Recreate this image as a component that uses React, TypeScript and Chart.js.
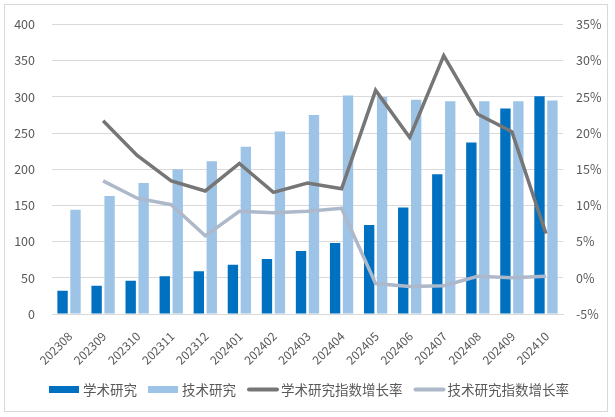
import React, { useEffect, useRef } from "react";
import { Chart, registerables } from "chart.js";

Chart.register(...registerables);

const categories = [
  "202308", "202309", "202310", "202311", "202312", "202401", "202402", "202403",
  "202404", "202405", "202406", "202407", "202408", "202409", "202410",
];
const academic = [32, 39, 46, 52, 59, 68, 76, 87, 98, 123, 147, 193, 237, 284, 301];
const technical = [144, 163, 181, 200, 211, 231, 252, 275, 302, 300, 296, 294, 294, 294, 295];
const academicGrowth = [null, 21.7, 16.9, 13.4, 12.0, 15.8, 11.8, 13.1, 12.3, 25.9, 19.4, 30.7, 22.6, 20.2, 6.1];
const technicalGrowth = [null, 13.4, 11.0, 10.1, 5.8, 9.2, 9.0, 9.2, 9.6, -0.8, -1.2, -1.1, 0.2, 0.0, 0.2];

const seriesNames = ["学术研究", "技术研究", "学术研究指数增长率", "技术研究指数增长率"];
const colors = ["#0070C0", "#9DC3E6", "#767676", "#ADB9CA"];
const FONT = "'Noto Sans CJK SC', 'Noto Sans', sans-serif";

const frameAndLegend = {
  id: "frameAndLegend",
  afterDraw(chart: any) {
    const ctx = chart.ctx as CanvasRenderingContext2D;
    ctx.save();
    ctx.strokeStyle = "#D9D9D9";
    ctx.lineWidth = 1;
    ctx.strokeRect(4.5, 4.5, 603, 407);

    ctx.font = `13.5px ${FONT}`;
    ctx.textBaseline = "middle";
    const y = 389.5;
    const items = seriesNames.map((n, i) => ({
      name: n,
      color: colors[i],
      isLine: i >= 2,
      w: ctx.measureText(n).width,
    }));
    const boxW = 30;
    const lineW = 32;
    let total = 0;
    items.forEach((it, i) => {
      total += (it.isLine ? lineW + 2 : boxW + 4) + it.w;
      if (i < items.length - 1) total += 11;
    });
    let x = 309 - total / 2;
    items.forEach((it) => {
      if (it.isLine) {
        ctx.strokeStyle = it.color;
        ctx.lineWidth = 4;
        ctx.lineCap = "round";
        ctx.beginPath();
        ctx.moveTo(x + 2, y);
        ctx.lineTo(x + lineW - 2, y);
        ctx.stroke();
        x += lineW + 2;
      } else {
        ctx.fillStyle = it.color;
        ctx.fillRect(x, y - 3.5, boxW, 7);
        x += boxW + 4;
      }
      ctx.fillStyle = "#595959";
      ctx.textAlign = "left";
      ctx.fillText(it.name, x, y);
      x += it.w + 11;
    });
    ctx.restore();
  },
};

export default function App() {
  const ref = useRef<HTMLCanvasElement | null>(null);

  useEffect(() => {
    if (!ref.current) return;
    const chart = new Chart(ref.current, {
      type: "bar",
      data: {
        labels: categories,
        datasets: [
          {
            type: "line",
            label: seriesNames[2],
            data: academicGrowth as any,
            borderColor: colors[2],
            backgroundColor: colors[2],
            borderWidth: 3.5,
            pointRadius: 0,
            tension: 0,
            yAxisID: "y1",
            order: 0,
          },
          {
            type: "line",
            label: seriesNames[3],
            data: technicalGrowth as any,
            borderColor: colors[3],
            backgroundColor: colors[3],
            borderWidth: 3.5,
            pointRadius: 0,
            tension: 0,
            yAxisID: "y1",
            order: 1,
          },
          {
            type: "bar",
            label: seriesNames[0],
            data: academic,
            backgroundColor: colors[0],
            categoryPercentage: 0.76,
            barPercentage: 0.8,
            yAxisID: "y",
            order: 2,
          },
          {
            type: "bar",
            label: seriesNames[1],
            data: technical,
            backgroundColor: colors[1],
            categoryPercentage: 0.76,
            barPercentage: 0.8,
            yAxisID: "y",
            order: 3,
          },
        ] as any,
      },
      options: {
        responsive: false,
        animation: false,
        layout: { padding: { top: 22, left: 0, right: 0, bottom: 0 } },
        plugins: {
          legend: { display: false },
          tooltip: { enabled: false },
        },
        scales: {
          x: {
            grid: { display: false, drawTicks: false },
            border: { display: true, color: "#D9D9D9", width: 1 },
            ticks: {
              autoSkip: false,
              maxRotation: 45,
              minRotation: 45,
              padding: 15,
              labelOffset: 1,
              color: "#595959",
              font: { family: FONT, size: 12 },
            },
            afterFit: (s: any) => {
              s.height = 103;
            },
          },
          y: {
            position: "left",
            min: 0,
            max: 400,
            ticks: {
              stepSize: 50,
              padding: 17,
              color: "#595959",
              font: { family: FONT, size: 12.5 },
            },
            grid: { color: "#D9D9D9", drawTicks: false },
            border: { display: false },
            afterFit: (s: any) => {
              s.width = 52;
            },
          },
          y1: {
            position: "right",
            min: -5,
            max: 35,
            ticks: {
              stepSize: 5,
              padding: 13,
              color: "#595959",
              font: { family: FONT, size: 12.5 },
              callback: (v: any) => `${v}%`,
            },
            grid: { display: false, drawTicks: false },
            border: { display: false },
            afterFit: (s: any) => {
              s.width = 52;
            },
          },
        },
      },
      plugins: [frameAndLegend],
    });
    return () => chart.destroy();
  }, []);

  return (
    <div style={{ position: "absolute", left: 0, top: 0, width: 615, height: 417, background: "#fff" }}>
      <canvas ref={ref} width={615} height={417} />
    </div>
  );
}
